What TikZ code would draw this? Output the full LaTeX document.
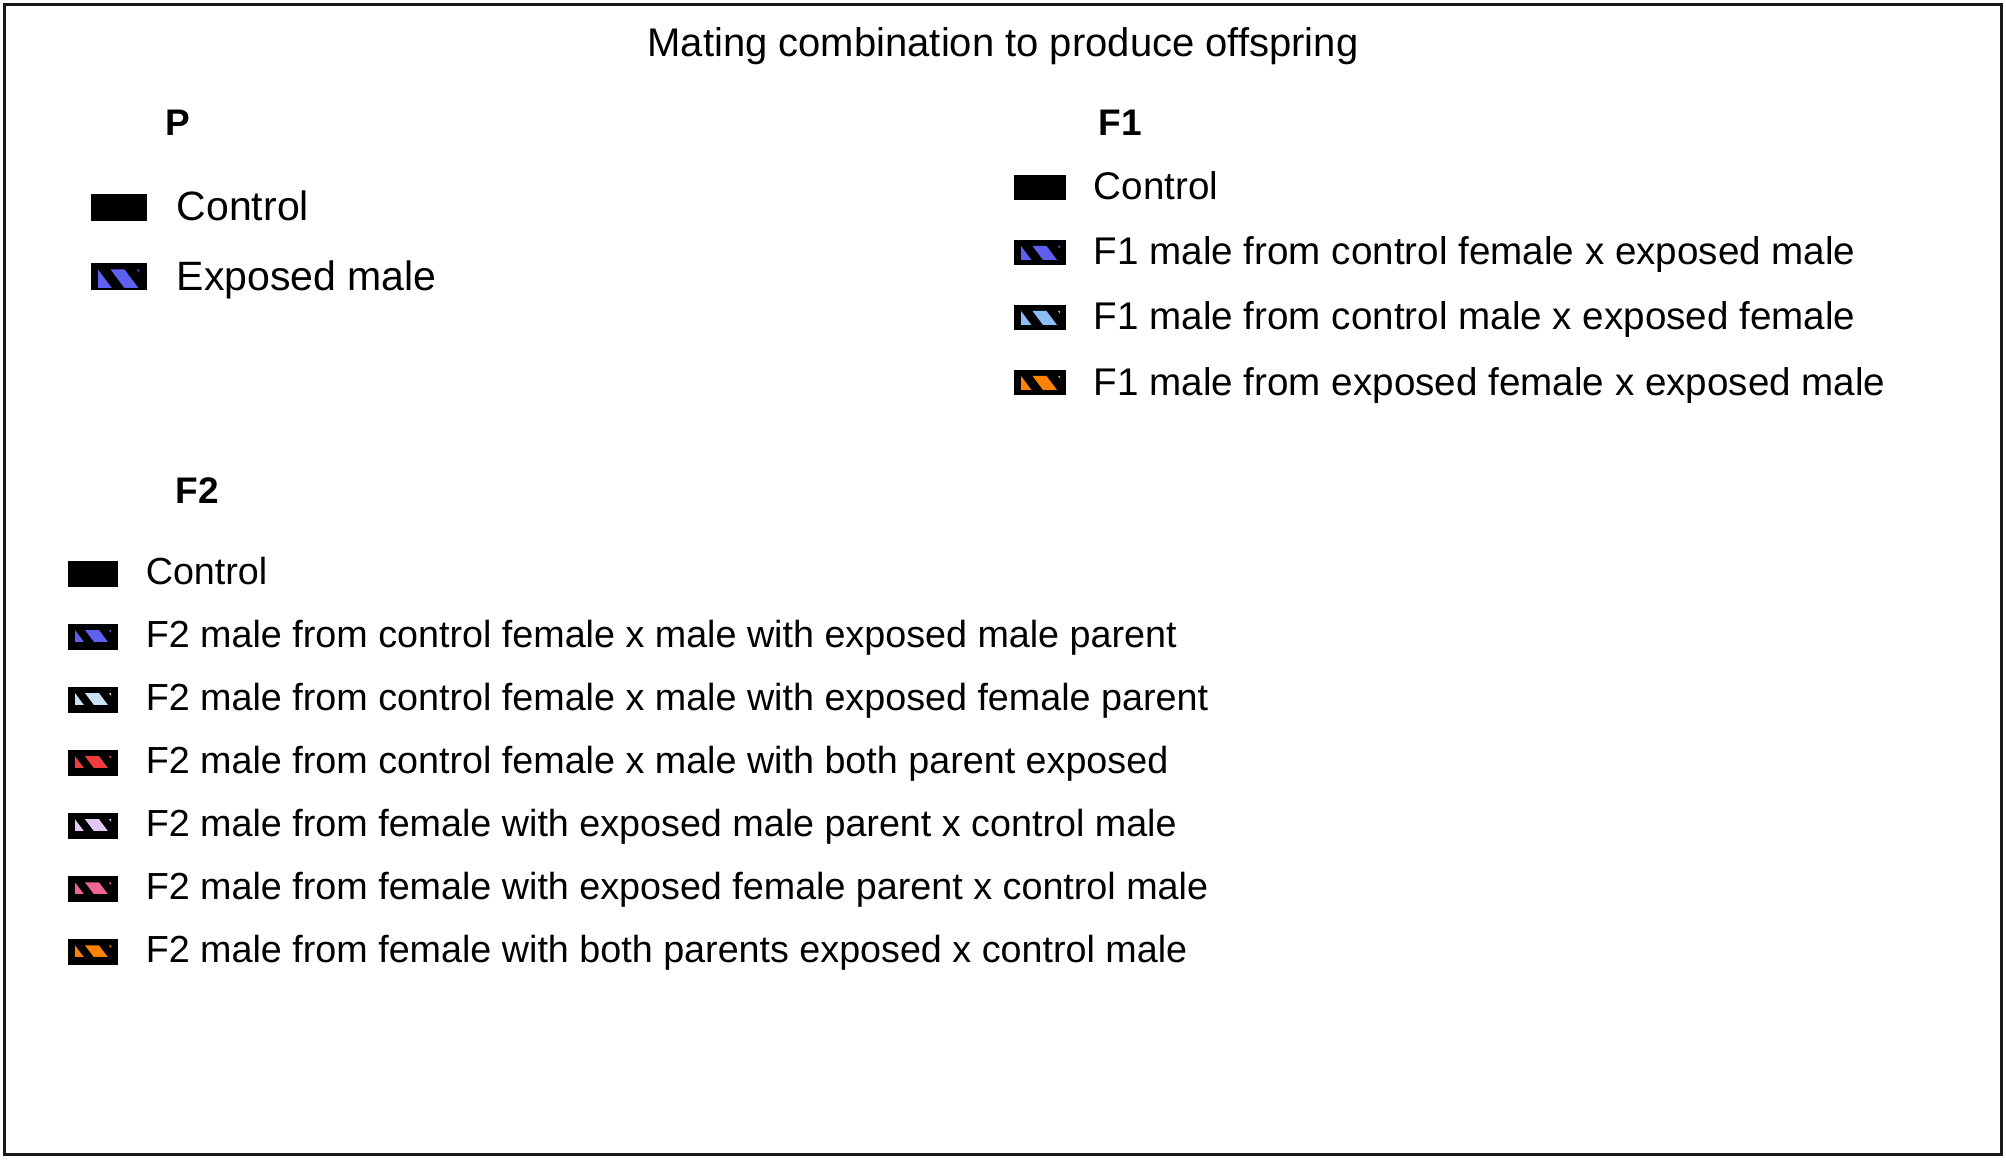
\documentclass[tikz,border=0pt]{standalone}
\usepackage{fontspec}
\setmainfont{Liberation Sans}
\usetikzlibrary{positioning}

\definecolor{expmale}{RGB}{96,96,240}
\definecolor{expfem}{RGB}{140,190,245}
\definecolor{bothexp}{RGB}{255,130,0}
\definecolor{paleblue}{RGB}{200,225,245}
\definecolor{redexp}{RGB}{240,60,60}
\definecolor{lavender}{RGB}{225,200,245}
\definecolor{pinkexp}{RGB}{240,100,150}

\begin{document}
\begin{tikzpicture}[
  x=0.5pt, y=0.5pt,
  swatch/.style={rectangle, fill=black, inner sep=0pt},
  pbox/.style={swatch, minimum width=28pt, minimum height=13.5pt},
  fonebox/.style={swatch, minimum width=26pt, minimum height=12.5pt},
  ftwobox/.style={swatch, minimum width=25pt, minimum height=13pt},
  % colour stripes inside a swatch: colour, clip right, clip bottom
  stripes/.style n args={3}{path picture={
    \clip ([xshift=3.5pt, yshift=-3pt]path picture bounding box.north west)
      rectangle ([xshift={#2*0.5pt}, yshift={-#3*0.5pt}]path picture bounding box.north west);
    \foreach \k in {0,1,2}
      \fill[#1] ([xshift={(-7+\k*(#2+5)/2)*0.5pt}, yshift=-3pt]path picture bounding box.north west)
        -- ++(14,0) -- ++(22.5,-30) -- ++(-14,0) -- cycle;}},
  pstr/.style={stripes={#1}{48}{24}},
  fonestr/.style={stripes={#1}{46}{19.5}},
  ftwostr/.style={stripes={#1}{43}{17}},
  ltxt/.style={inner sep=0pt, text depth=0pt, anchor=west},
  ptxt/.style={ltxt, text height=13.5pt, font=\fontsize{20.5}{24}\selectfont},
  fonetxt/.style={ltxt, text height=12.5pt, font=\fontsize{19.3}{23}\selectfont},
  ftwotxt/.style={ltxt, text height=10pt, font=\fontsize{18.85}{22}\selectfont},
  head/.style={inner sep=0pt, anchor=base west, font=\fontsize{18.5}{22}\selectfont\bfseries}
]
  \useasboundingbox (0,0) rectangle (2006,-1160);
  \draw[line width=1.5pt, black!90] (4.5,-4.2) rectangle (2001.5,-1154.5);

  \node[inner sep=0pt, anchor=base, font=\fontsize{20}{24}\selectfont] (title) at (1003,-57)
    {Mating combination to produce offspring};

  % P
  \node[head] (phead) at (165,-136) {P};
  \node[pbox] (pctl) at (119,-207.5) {};
  \node[pbox, pstr=expmale] (pexp) at (119,-277) {};
  \node[ptxt, right=14.5pt of pctl] (pctl-t) {Control};
  \node[ptxt, right=14.5pt of pexp] (pexp-t) {Exposed male};

  % F1
  \node[head] (fonehead) at (1098,-136) {F1};
  \node[fonebox] (fonectl) at (1040,-187.5) {};
  \node[fonebox, fonestr=expmale, below=19.6pt of fonectl] (fonea) {};
  \node[fonebox, fonestr=expfem, below=19.6pt of fonea] (foneb) {};
  \node[fonebox, fonestr=bothexp, below=19.6pt of foneb] (fonec) {};
  \node[fonetxt, right=13.5pt of fonectl] (fonectl-t) {Control};
  \node[fonetxt, right=13.5pt of fonea] (fonea-t) {F1 male from control female x exposed male};
  \node[fonetxt, right=13.5pt of foneb] (foneb-t) {F1 male from control male x exposed female};
  \node[fonetxt, right=13.5pt of fonec] (fonec-t) {F1 male from exposed female x exposed male};

  % F2
  \node[head] (ftwohead) at (175,-503) {F2};
  \node[ftwobox] (ftwoctl) at (93,-574) {};
  \node[ftwobox, ftwostr=expmale, below=18.13pt of ftwoctl] (ftwoa) {};
  \node[ftwobox, ftwostr=paleblue, below=18.13pt of ftwoa] (ftwob) {};
  \node[ftwobox, ftwostr=redexp, below=18.13pt of ftwob] (ftwoc) {};
  \node[ftwobox, ftwostr=lavender, below=18.13pt of ftwoc] (ftwod) {};
  \node[ftwobox, ftwostr=pinkexp, below=18.13pt of ftwod] (ftwoe) {};
  \node[ftwobox, ftwostr=bothexp, below=18.13pt of ftwoe] (ftwof) {};
  \node[ftwotxt, right=13.5pt of ftwoctl] (ftwoctl-t) {Control};
  \node[ftwotxt, right=13.5pt of ftwoa] (ftwoa-t) {F2 male from control female x male with exposed male parent};
  \node[ftwotxt, right=13.5pt of ftwob] (ftwob-t) {F2 male from control female x male with exposed female parent};
  \node[ftwotxt, right=13.5pt of ftwoc] (ftwoc-t) {F2 male from control female x male with both parent exposed};
  \node[ftwotxt, right=13.5pt of ftwod] (ftwod-t) {F2 male from female with exposed male parent x control male};
  \node[ftwotxt, right=13.5pt of ftwoe] (ftwoe-t) {F2 male from female with exposed female parent x control male};
  \node[ftwotxt, right=13.5pt of ftwof] (ftwof-t) {F2 male from female with both parents exposed x control male};
\end{tikzpicture}
\end{document}
